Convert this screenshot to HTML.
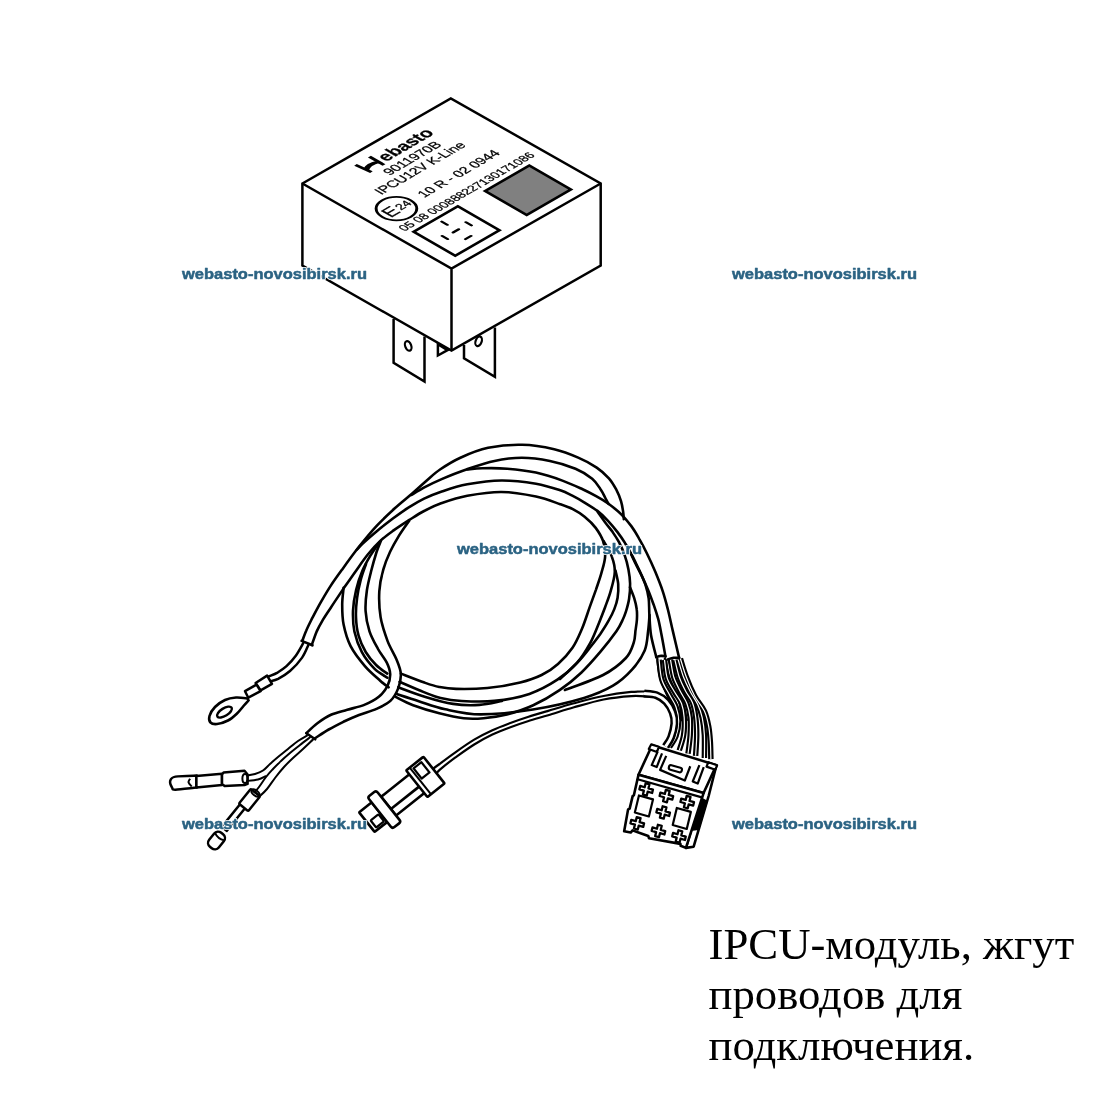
<!DOCTYPE html>
<html><head><meta charset="utf-8">
<style>
html,body{margin:0;padding:0;background:#fff;width:1100px;height:1100px;overflow:hidden}
svg{position:absolute;left:0;top:0}
.cap{position:absolute;left:710px;font-family:"Liberation Serif",serif;font-size:45px;color:#000;white-space:nowrap;line-height:1}
</style></head><body>
<svg width="1100" height="1100" viewBox="0 0 1100 1100" style="will-change:transform">
<g fill="#fff" stroke="#000" stroke-width="2.5" stroke-linejoin="miter">
  <!-- tabs -->
  <path d="M393.6,318.9 V362.9 L424.5,381.5 V336.6"/>
  <path d="M437.9,344.3 V355.5 L447.5,350.2 Z"/>
  <path d="M464,345 V358.3 L494.9,376.8 V327.4"/>
  <!-- box -->
  <path d="M302.4,183.5 L450.8,98.5 L600.7,183.5 V265.5 L451.5,350.6 L302.4,265.5 Z"/>
  <path d="M302.4,183.5 L451.5,268.6 L600.7,183.5 M451.5,268.6 V350.6" fill="none"/>
</g>
<ellipse cx="408.2" cy="345.9" rx="3" ry="5" fill="none" stroke="#000" stroke-width="2.2" transform="rotate(-20 408.2 345.9)"/>
<ellipse cx="478.6" cy="341.3" rx="3" ry="5" fill="none" stroke="#000" stroke-width="2.2" transform="rotate(20 478.6 341.3)"/>
<!--HARNESS_START-->
<g fill="none" stroke="#000" stroke-linecap="round" stroke-linejoin="round">
<path d="M302.3,640.9C303.0,639.2 304.6,634.2 306.3,630.5C307.9,626.7 309.8,623.0 312.2,618.2C314.7,613.5 317.9,607.3 321.0,601.9C324.1,596.5 327.2,591.1 330.8,585.6C334.4,580.1 338.0,575.2 342.6,568.9C347.1,562.6 352.6,554.9 358.2,547.8C363.8,540.8 370.1,532.9 376.2,526.4C382.3,519.8 388.8,513.8 394.8,508.3C400.8,502.8 406.9,498.1 412.2,493.5C417.4,488.9 421.5,485.0 426.2,480.9C430.9,476.9 434.7,473.2 440.4,469.3C446.1,465.4 452.4,461.3 460.4,457.7C468.3,454.1 477.8,450.0 488.1,447.8C498.4,445.7 511.2,444.5 522.2,444.8C533.3,445.0 544.9,447.1 554.2,449.2C563.6,451.4 571.1,454.5 578.2,457.6C585.3,460.6 591.6,464.1 596.7,467.6C601.8,471.0 605.6,474.7 608.9,478.4C612.1,482.0 614.2,485.9 616.3,489.7C618.3,493.5 619.9,497.6 621.0,501.2C622.1,504.8 622.6,508.4 623.1,511.4C623.5,514.4 623.7,517.8 623.8,519.1" stroke-width="2.6"/>
<path d="M411.5,495.0C413.8,493.6 420.3,489.5 425.3,486.9C430.4,484.2 434.9,482.0 441.7,479.1C448.5,476.2 457.6,472.5 466.4,469.5C475.2,466.5 485.3,462.9 494.5,461.0C503.8,459.0 512.6,457.8 521.8,457.8C531.0,457.8 540.9,459.2 549.9,461.1C558.8,462.9 568.4,465.9 575.5,468.8C582.6,471.8 588.0,475.3 592.2,478.7C596.4,482.1 598.4,486.1 600.5,489.3C602.7,492.4 603.8,495.1 605.1,497.5C606.4,499.9 607.9,502.8 608.5,503.8" stroke-width="2.6"/>
<path d="M467.3,469.5C469.8,469.3 475.8,468.4 482.5,468.3C489.2,468.1 498.4,468.0 507.3,468.8C516.2,469.5 526.7,470.6 535.9,472.6C545.1,474.6 554.7,477.8 562.4,480.6C570.2,483.4 577.0,486.7 582.6,489.3C588.2,491.9 591.8,493.8 596.1,496.2C600.5,498.6 604.3,500.8 608.5,503.8C612.6,506.8 617.2,510.3 621.0,514.1C624.8,517.8 628.4,522.3 631.5,526.4C634.5,530.5 636.7,534.3 639.2,538.8C641.8,543.2 644.1,547.5 646.7,553.0C649.4,558.5 652.6,565.4 655.3,571.8C657.9,578.1 660.6,584.8 662.7,591.1C664.8,597.4 666.2,602.9 667.9,609.5C669.6,616.2 670.9,622.8 672.8,630.9C674.7,638.9 678.0,653.3 679.1,657.8" stroke-width="2.6"/>
<path d="M356.9,549.7C357.9,548.7 359.5,546.5 362.7,543.5C366.0,540.4 371.5,535.6 376.5,531.4C381.6,527.2 387.8,522.4 393.2,518.3C398.6,514.3 404.0,510.4 409.2,507.1C414.3,503.9 418.8,501.2 424.1,498.6C429.4,496.1 433.9,494.1 441.1,491.7C448.3,489.3 457.2,486.2 467.3,484.3C477.3,482.5 490.0,480.6 501.4,480.5C512.9,480.4 526.2,482.1 536.0,483.7C545.8,485.4 554.3,488.3 560.3,490.3C566.4,492.3 568.3,493.7 572.3,495.7C576.2,497.7 579.9,499.7 584.1,502.3C588.2,504.8 593.4,507.9 597.4,510.9C601.4,514.0 604.7,517.3 608.0,520.8C611.3,524.3 614.4,528.1 617.3,531.9C620.1,535.6 622.7,539.2 625.1,543.2C627.6,547.1 629.8,551.2 632.2,555.7C634.5,560.3 637.1,565.6 639.3,570.4C641.5,575.2 643.8,580.0 645.4,584.7C646.9,589.4 648.0,593.5 648.7,598.5C649.3,603.6 649.0,608.9 649.4,615.0C649.8,621.1 649.9,628.0 651.0,635.0C652.2,641.9 655.3,653.1 656.2,656.7" stroke-width="2.6"/>
<path d="M630.5,553.0C631.2,554.4 632.6,557.7 634.5,561.5C636.3,565.3 639.3,570.7 641.7,575.6C644.0,580.6 646.4,586.0 648.5,591.0C650.5,596.0 652.3,601.0 654.0,605.6C655.6,610.3 656.9,614.2 658.2,618.9C659.4,623.5 660.1,627.4 661.3,633.7C662.6,640.0 664.8,652.9 665.5,656.7" stroke-width="2.6"/>
<path d="M311.8,645.0C312.6,642.8 314.7,636.2 316.5,631.9C318.4,627.7 320.6,623.7 323.0,619.6C325.5,615.5 327.7,612.3 331.1,607.2C334.4,602.1 339.1,595.2 343.3,588.9C347.6,582.7 352.5,575.6 356.6,569.9C360.7,564.1 364.1,559.1 368.0,554.3C371.8,549.5 375.7,545.1 380.0,541.1C384.3,537.1 388.8,533.9 393.6,530.4C398.4,526.9 403.9,523.4 408.9,520.2C414.0,517.0 418.7,513.8 424.1,511.0C429.4,508.2 433.9,505.9 441.1,503.3C448.3,500.8 457.2,497.7 467.3,495.8C477.3,494.0 490.0,491.9 501.4,492.0C512.9,492.1 526.2,494.5 536.0,496.6C545.8,498.6 554.1,502.1 560.2,504.2C566.4,506.3 568.8,507.1 572.8,509.2C576.9,511.3 580.8,513.7 584.6,516.8C588.4,519.9 592.6,523.8 595.7,527.9C598.7,532.0 601.5,536.4 603.1,541.2C604.7,546.0 605.4,551.5 605.1,556.9C604.8,562.3 602.8,567.9 601.3,573.4C599.8,578.8 597.9,583.9 596.0,589.6C594.0,595.3 591.9,601.0 589.6,607.4C587.3,613.9 585.0,621.5 582.2,628.3C579.3,635.0 576.6,641.8 572.5,647.8C568.5,653.7 563.2,659.4 558.0,663.9C552.9,668.5 547.9,671.9 541.6,675.0C535.3,678.1 529.3,680.2 520.2,682.4C511.2,684.6 498.0,686.9 487.3,688.0C476.6,689.0 464.1,689.1 456.1,688.9C448.0,688.7 444.5,688.0 439.2,687.0C433.9,685.9 430.8,684.8 424.4,682.6C418.0,680.3 404.8,675.1 400.9,673.6" stroke-width="2.6"/>
<path d="M343.6,587.7C343.4,590.5 342.2,598.3 342.2,604.5C342.2,610.6 342.2,617.6 343.6,624.6C345.0,631.5 347.1,639.2 350.6,646.2C354.2,653.1 359.9,660.3 364.9,666.1C369.8,671.8 376.3,677.2 380.2,680.7C384.2,684.3 387.2,686.2 388.6,687.3" stroke-width="2.6"/>
<path d="M603.5,540.9C604.9,543.5 610.0,551.4 611.8,556.6C613.7,561.7 615.0,566.1 614.8,571.8C614.7,577.4 612.5,584.7 610.8,590.6C609.2,596.6 606.9,602.2 605.0,607.5C603.0,612.8 601.6,616.5 599.2,622.4C596.7,628.3 594.0,636.0 590.3,642.8C586.6,649.5 582.4,656.8 576.9,662.9C571.4,669.1 565.3,674.5 557.4,679.7C549.5,684.9 540.0,690.3 529.4,693.9C518.9,697.4 505.6,699.8 494.3,700.9C483.0,702.1 470.5,701.5 461.6,701.0C452.6,700.5 446.9,699.5 440.6,698.0C434.3,696.5 430.6,694.8 423.8,692.1C416.9,689.4 403.5,683.5 399.5,681.8" stroke-width="2.6"/>
<path d="M615.5,570.5C615.9,572.8 617.8,579.5 618.2,584.0C618.5,588.5 618.3,593.5 617.6,597.7C617.0,601.8 615.8,605.2 614.3,609.1C612.8,612.9 611.0,616.6 608.6,620.7C606.3,624.9 603.3,629.5 600.3,634.0C597.2,638.4 594.0,642.5 590.2,647.3C586.4,652.1 582.5,657.3 577.4,662.6C572.4,667.9 562.9,676.3 560.0,679.0" stroke-width="2.6"/>
<path d="M597.6,511.8C599.0,513.7 603.3,519.9 605.8,523.2C608.2,526.5 610.1,528.4 612.3,531.6C614.5,534.8 616.9,538.2 619.0,542.2C621.1,546.2 623.2,550.9 624.7,555.4C626.3,559.9 627.5,564.5 628.4,569.2C629.3,573.9 630.0,578.6 630.1,583.6C630.2,588.5 629.8,594.0 629.1,598.7C628.4,603.3 627.0,608.1 625.9,611.7C624.8,615.2 624.2,616.8 622.6,620.0C621.1,623.3 620.0,626.0 616.4,631.2C612.7,636.4 606.5,644.5 600.7,651.4C594.8,658.4 588.0,666.2 581.2,672.7C574.3,679.2 567.6,684.8 559.6,690.2C551.6,695.7 542.0,701.3 533.2,705.3C524.5,709.4 515.2,712.3 506.9,714.5C498.6,716.6 490.7,717.6 483.5,718.2C476.3,718.9 471.1,719.1 463.7,718.3C456.3,717.5 447.7,715.5 439.3,713.3C430.8,711.1 420.4,707.9 413.1,705.2C405.8,702.4 398.4,698.2 395.5,696.8" stroke-width="2.6"/>
<path d="M630.0,587.3C630.7,589.1 633.1,594.6 634.2,598.2C635.3,601.8 636.3,605.6 636.7,609.2C637.2,612.7 637.1,616.2 636.9,619.7C636.7,623.2 636.1,626.5 635.5,630.4C635.0,634.2 635.3,638.1 633.7,642.7C632.1,647.4 631.0,652.6 625.9,658.0C620.8,663.4 613.3,669.7 603.1,675.0C592.9,680.3 571.3,687.5 564.9,690.0" stroke-width="2.6"/>
<path d="M649.5,615.0C649.3,617.7 648.9,625.2 648.1,631.2C647.3,637.1 647.3,644.1 644.7,650.5C642.0,656.9 637.3,663.9 632.0,669.7C626.7,675.6 621.0,681.0 613.0,685.7C605.0,690.4 597.4,694.0 584.0,697.9C570.7,701.9 550.1,706.7 532.9,709.5C515.7,712.2 495.4,714.4 480.8,714.4C466.2,714.3 455.6,711.5 445.3,709.3C435.0,707.1 426.9,703.8 418.8,701.2C410.7,698.7 400.5,695.3 396.8,694.1" stroke-width="2.6"/>
<path d="M398.2,687.3C402.7,688.9 416.3,694.2 425.5,697.0C434.6,699.8 444.1,702.6 453.1,703.9C462.1,705.3 471.2,705.4 479.4,704.9C487.5,704.4 498.2,701.6 502.0,701.0" stroke-width="2.6"/>
<path d="M409.1,520.9C407.4,523.3 402.2,530.4 399.0,535.6C395.9,540.7 392.8,546.1 390.1,551.8C387.5,557.4 385.1,563.1 383.3,569.7C381.4,576.3 379.8,583.5 379.3,591.4C378.9,599.3 379.2,608.8 380.6,617.1C381.9,625.3 385.0,634.1 387.6,641.1C390.3,648.2 394.2,653.8 396.4,659.2C398.6,664.6 400.5,668.7 400.8,673.5C401.1,678.3 400.0,683.6 398.3,688.1C396.5,692.7 394.0,697.4 390.4,700.9C386.8,704.3 381.8,706.5 376.5,708.9C371.3,711.2 364.5,712.9 359.0,715.0C353.4,717.2 348.5,719.4 343.4,721.8C338.4,724.3 333.6,726.7 328.7,729.5C323.9,732.3 316.9,737.1 314.5,738.6" stroke-width="2.6"/>
<path d="M380.9,540.9C380.2,542.8 378.0,547.7 376.4,552.5C374.9,557.3 373.1,563.5 371.5,569.8C369.9,576.1 367.9,583.4 366.9,590.3C365.9,597.2 365.2,604.3 365.6,611.1C366.0,617.9 367.5,625.0 369.5,631.3C371.6,637.6 375.2,643.8 378.0,649.0C380.9,654.2 384.7,658.4 386.8,662.6C388.8,666.7 390.1,670.2 390.2,674.0C390.3,677.9 389.4,682.0 387.5,685.8C385.6,689.6 382.6,693.6 378.8,696.8C374.9,700.0 369.6,702.7 364.3,704.9C359.1,707.0 352.8,708.1 347.3,709.7C341.7,711.4 336.0,712.5 331.0,714.8C326.0,717.0 321.5,720.2 317.4,723.3C313.3,726.3 308.2,731.5 306.4,733.2" stroke-width="2.6"/>
<path d="M379.1,542.7C377.6,544.9 373.0,551.2 370.2,555.9C367.4,560.6 364.7,565.1 362.4,570.8C360.0,576.5 357.6,583.3 356.1,590.0C354.5,596.7 353.3,604.0 353.0,610.9C352.8,617.8 353.0,624.7 354.4,631.6C355.9,638.4 358.6,646.0 361.9,652.1C365.2,658.3 370.2,664.3 374.4,668.6C378.6,672.8 385.2,676.2 387.3,677.7" stroke-width="2.6"/>
<path d="M366.0,564.0C365.1,566.7 362.1,574.3 360.7,579.9C359.2,585.6 357.9,591.5 357.1,597.8C356.3,604.0 355.7,611.0 356.0,617.3C356.2,623.6 356.9,629.9 358.6,635.7C360.2,641.4 362.8,647.1 365.7,652.0C368.6,656.9 372.5,661.4 376.1,665.0C379.7,668.6 385.4,672.2 387.3,673.6" stroke-width="2.6"/>
<path d="M301.6,640.9L312.5,645.3" stroke-width="2.6"/>
<path d="M303.2,643.2C302.0,645.3 298.6,651.9 295.8,655.7C293.0,659.5 289.5,663.4 286.5,666.2C283.4,669.0 280.4,670.8 277.5,672.6C274.5,674.3 270.2,675.8 268.7,676.5" stroke-width="2.5"/>
<path d="M308.6,644.5C307.5,646.7 305.2,653.2 302.1,657.6C299.0,662.1 294.0,667.5 290.0,671.0C286.0,674.5 281.4,677.1 278.1,678.9C274.8,680.6 271.7,681.0 270.4,681.4" stroke-width="2.5"/>
<path d="M306.4,733.2L315.2,739.3" stroke-width="2.6"/>
<path d="M432.3,769.3C433.5,768.4 435.7,766.8 439.6,764.0C443.4,761.1 449.6,756.3 455.4,752.3C461.1,748.2 468.1,743.3 474.2,739.6C480.4,735.9 486.3,733.0 492.4,730.2C498.4,727.4 504.5,725.2 510.4,723.0C516.4,720.8 521.5,719.0 527.8,717.0C534.1,714.9 540.5,713.1 548.2,710.9C555.9,708.6 564.8,705.8 574.0,703.3C583.2,700.8 594.1,697.8 603.6,696.0C613.1,694.1 623.8,692.7 631.2,691.9C638.6,691.2 645.2,691.6 648.0,691.5" stroke-width="2.2"/>
<path d="M435.5,775.0C436.2,774.1 436.7,772.5 439.9,769.7C443.2,766.8 449.4,761.8 455.1,757.6C460.9,753.5 468.0,748.4 474.2,744.5C480.4,740.7 486.3,737.5 492.4,734.6C498.4,731.7 504.5,729.4 510.4,727.2C516.4,724.9 521.5,723.2 527.8,721.2C534.1,719.2 540.5,717.5 548.2,715.2C555.9,712.9 564.8,709.9 574.0,707.3C583.2,704.7 594.1,701.4 603.6,699.5C613.1,697.6 623.8,696.6 631.2,696.1C638.6,695.6 645.2,696.4 648.0,696.5" stroke-width="2.2"/>
<path d="M656.2,657.3C656.9,657.0 659.0,656.0 660.5,655.9C662.1,655.7 664.6,656.1 665.5,656.2" stroke-width="2.6"/>
<path d="M667.6,659.5C668.6,659.2 671.7,658.1 673.6,657.8C675.5,657.5 678.2,657.8 679.1,657.8" stroke-width="2.6"/>
<path d="M657.3,658.9C657.7,661.9 658.6,671.1 660.0,676.6C661.5,682.1 663.9,687.1 665.8,691.8C667.7,696.5 669.8,699.9 671.1,704.6C672.4,709.3 673.2,717.4 673.6,720.0" stroke-width="2.5"/>
<path d="M664.9,658.9C665.6,661.9 667.2,671.1 668.9,676.6C670.7,682.1 673.5,687.1 675.4,691.8C677.2,696.5 679.0,699.9 680.0,704.6C681.0,709.3 681.1,717.4 681.3,720.0" stroke-width="2.5"/>
<path d="M669.3,661.1C670.0,663.7 672.1,671.2 673.8,676.5C675.4,681.8 677.5,687.7 679.2,693.0C681.0,698.3 682.9,704.0 684.2,708.5C685.4,712.9 686.3,718.1 686.7,720.0" stroke-width="2.5"/>
<path d="M678.0,661.1C678.9,663.7 681.4,671.8 683.6,676.9C685.9,681.9 688.7,687.0 691.3,691.7C693.9,696.3 697.0,699.9 699.4,704.6C701.7,709.4 704.3,717.4 705.3,720.0" stroke-width="2.5"/>
</g>
<!--HARNESS_END-->
<!--PARTS_START-->
<path d="M247.7,698.5C245.8,698.3 239.8,697.2 236.0,697.5C232.2,697.8 228.5,698.4 225.0,700.0C221.5,701.6 217.6,704.3 215.0,707.0C212.4,709.7 210.2,713.4 209.5,716.0C208.8,718.6 209.2,721.2 210.5,722.5C211.8,723.8 214.1,724.3 217.0,724.0C219.9,723.7 224.7,722.2 228.0,720.5C231.3,718.8 234.4,715.9 237.0,713.5C239.6,711.1 241.6,708.2 243.5,706.0C245.4,703.8 247.7,701.4 248.5,700.5Z" fill="#fff" stroke="#000" stroke-width="2.6"/>
<ellipse cx="224.5" cy="712.1" rx="8.4" ry="3.8" transform="rotate(-32 224.5 712.1)" fill="#fff" stroke="#000" stroke-width="2.4"/>
<path d="M255.6,683.0 L267.1,675.6 L272.0,683.8 L260.6,690.4Z" fill="#fff" stroke="#000" stroke-width="2.5" stroke-linejoin="round"/>
<path d="M245.0,691.2 L256.5,684.6 L260.6,691.2 L248.3,697.7Z" fill="#fff" stroke="#000" stroke-width="2.5" stroke-linejoin="round"/>
<path d="M196.4,775.6C192.9,775.7 179.8,775.7 175.5,776.6C171.1,777.5 170.8,778.9 170.2,780.8C169.7,782.7 171.4,786.6 172.3,788.1C173.2,789.6 171.4,789.8 175.5,789.7C179.5,789.6 192.9,787.9 196.4,787.6Z" fill="#fff" stroke="#000" stroke-width="2.5"/>
<path d="M196.4,776.1 L222.0,773.7 L222.0,785.0 L196.4,787.6Z" fill="#fff" stroke="#000" stroke-width="2.5" stroke-linejoin="round"/>
<path d="M190.1,778.7C189.8,779.3 188.3,781.0 188.5,782.3C188.8,783.7 191.1,785.8 191.7,786.5" fill="none" stroke="#000" stroke-width="2"/>
<path d="M223.6,772.4 L244.5,770.8 L247.6,774.5 L247.6,783.9 L244.5,785.0 L224.6,786.0 L222.0,783.9 L222.0,774.5Z" fill="#fff" stroke="#000" stroke-width="2.5" stroke-linejoin="round"/>
<ellipse cx="245" cy="778.5" rx="2.6" ry="4.6" fill="none" stroke="#000" stroke-width="2"/>
<g transform="translate(0,0)" fill="#fff" stroke="#000" stroke-width="2.5" stroke-linejoin="round"><rect x="-14" y="-3.2" width="32" height="6.4" transform="translate(233,818) rotate(-51)"/><rect x="-9.5" y="-6" width="19" height="12" rx="1.5" transform="translate(249.5,800) rotate(-51)"/><ellipse cx="0" cy="0" rx="2.6" ry="4.6" transform="translate(255.5,793) rotate(-51)" fill="none" stroke-width="2"/><rect x="-9" y="-6.2" width="18" height="12.4" rx="5" transform="translate(216.5,840.5) rotate(-51)"/><path d="M5,-6 Q2,0 5,6" transform="translate(216.5,840.5) rotate(-51)" fill="none" stroke-width="2"/></g>
<path d="M307.7,735.2C306.1,736.2 301.3,738.7 298.0,741.0C294.7,743.3 291.3,746.3 288.0,749.0C284.7,751.7 281.0,754.5 278.0,757.0C275.0,759.5 272.5,761.8 270.0,764.0C267.5,766.2 265.5,768.8 263.0,770.5C260.5,772.2 257.8,773.2 255.0,774.0C252.2,774.8 247.9,775.2 246.5,775.5" fill="none" stroke="#000" stroke-width="2"/>
<path d="M310.5,737.0C308.8,738.3 303.4,742.3 300.0,745.0C296.6,747.7 293.2,750.3 290.0,753.0C286.8,755.7 283.8,758.3 281.0,761.0C278.2,763.7 275.5,766.3 273.0,769.0C270.5,771.7 268.3,774.0 266.0,777.0C263.7,780.0 261.0,784.3 259.0,787.0C257.0,789.7 254.8,792.0 254.0,793.0" fill="none" stroke="#000" stroke-width="2"/>
<path d="M313.5,739.0C311.8,740.7 306.4,745.8 303.0,749.0C299.6,752.2 296.2,755.0 293.0,758.0C289.8,761.0 287.0,763.7 284.0,767.0C281.0,770.3 277.8,774.3 275.0,778.0C272.2,781.7 269.7,785.8 267.0,789.0C264.3,792.2 260.3,795.7 259.0,797.0" fill="none" stroke="#000" stroke-width="2"/>
<path d="M246.5,781.0C248.4,780.8 254.8,780.3 258.0,779.5C261.2,778.7 264.7,776.6 266.0,776.0" fill="none" stroke="#000" stroke-width="2"/>
<g transform="translate(383.6,812.7) rotate(-38.5)" fill="#fff" stroke="#000" stroke-width="2.6" stroke-linejoin="round"><rect x="-19" y="-15.5" width="16" height="25" rx="1"/><rect x="-15" y="-2" width="10" height="9" rx="1" stroke-width="2.2"/><rect x="8" y="-14" width="37" height="24"/><path d="M8,1.7 H44" fill="none"/><rect x="44" y="-19" width="22" height="34" rx="1"/><path d="M48.5,-19 V15" fill="none" stroke-width="2"/><rect x="51" y="-16" width="10" height="13" stroke-width="2.2"/><rect x="-3" y="-22" width="11" height="40" rx="2.5"/></g>
<path d="M659.1,659.8C659.5,663.1 660.1,673.6 661.8,679.5C663.5,685.3 667.1,690.2 669.5,694.7C671.8,699.3 674.5,702.4 676.0,706.7C677.5,711.1 678.7,716.0 678.7,720.9C678.7,725.8 677.5,731.8 676.0,736.2C674.5,740.5 670.5,745.3 669.5,747.1" fill="none" stroke="#000" stroke-width="5.5"/>
<path d="M664.5,659.8C665.0,662.9 665.5,672.9 667.3,678.4C669.0,683.8 672.5,688.4 674.9,692.5C677.3,696.7 679.9,699.3 681.5,703.5C683.0,707.6 683.8,712.4 684.2,717.6C684.5,722.9 684.5,729.6 683.6,735.1C682.8,740.5 680.0,747.8 679.3,750.4" fill="none" stroke="#000" stroke-width="5.5"/>
<path d="M670.5,659.8C671.1,662.7 672.2,672.0 673.8,677.3C675.5,682.5 678.2,687.1 680.4,691.5C682.5,695.8 685.3,699.1 686.9,703.5C688.5,707.8 689.6,712.4 690.2,717.6C690.7,722.9 690.5,729.1 690.2,735.1C689.8,741.1 688.4,750.5 688.0,753.6" fill="none" stroke="#000" stroke-width="5.5"/>
<path d="M674.9,659.8C675.6,662.7 677.5,672.0 679.3,677.3C681.1,682.5 683.6,687.3 685.8,691.5C688.0,695.6 690.7,698.2 692.4,702.4C694.0,706.5 694.9,711.1 695.6,716.5C696.4,722.0 696.7,728.5 696.7,735.1C696.7,741.6 695.8,752.4 695.6,755.8" fill="none" stroke="#000" stroke-width="5.5"/>
<path d="M678.2,659.8C679.1,662.7 681.6,672.0 683.6,677.3C685.6,682.5 687.8,686.9 690.2,691.5C692.5,696.0 695.8,700.2 697.8,704.5C699.8,708.9 701.1,712.5 702.2,717.6C703.3,722.7 704.0,728.4 704.4,735.1C704.7,741.8 704.4,754.2 704.4,758.0" fill="none" stroke="#000" stroke-width="5.5"/>
<path d="M680.4,658.7C681.4,661.8 684.0,671.1 686.4,677.3C688.7,683.5 691.5,690.2 694.5,695.8C697.5,701.5 702.0,706.0 704.4,711.1C706.7,716.2 707.7,721.1 708.7,726.4C709.7,731.6 710.0,737.3 710.4,742.7C710.7,748.2 710.8,756.4 710.9,759.1" fill="none" stroke="#000" stroke-width="5.5"/>
<path d="M659.1,659.8C659.5,663.1 660.1,673.6 661.8,679.5C663.5,685.3 667.1,690.2 669.5,694.7C671.8,699.3 674.5,702.4 676.0,706.7C677.5,711.1 678.7,716.0 678.7,720.9C678.7,725.8 677.5,731.8 676.0,736.2C674.5,740.5 670.5,745.3 669.5,747.1" fill="none" stroke="#fff" stroke-width="1.2"/>
<path d="M664.5,659.8C665.0,662.9 665.5,672.9 667.3,678.4C669.0,683.8 672.5,688.4 674.9,692.5C677.3,696.7 679.9,699.3 681.5,703.5C683.0,707.6 683.8,712.4 684.2,717.6C684.5,722.9 684.5,729.6 683.6,735.1C682.8,740.5 680.0,747.8 679.3,750.4" fill="none" stroke="#fff" stroke-width="1.2"/>
<path d="M670.5,659.8C671.1,662.7 672.2,672.0 673.8,677.3C675.5,682.5 678.2,687.1 680.4,691.5C682.5,695.8 685.3,699.1 686.9,703.5C688.5,707.8 689.6,712.4 690.2,717.6C690.7,722.9 690.5,729.1 690.2,735.1C689.8,741.1 688.4,750.5 688.0,753.6" fill="none" stroke="#fff" stroke-width="1.2"/>
<path d="M674.9,659.8C675.6,662.7 677.5,672.0 679.3,677.3C681.1,682.5 683.6,687.3 685.8,691.5C688.0,695.6 690.7,698.2 692.4,702.4C694.0,706.5 694.9,711.1 695.6,716.5C696.4,722.0 696.7,728.5 696.7,735.1C696.7,741.6 695.8,752.4 695.6,755.8" fill="none" stroke="#fff" stroke-width="1.2"/>
<path d="M678.2,659.8C679.1,662.7 681.6,672.0 683.6,677.3C685.6,682.5 687.8,686.9 690.2,691.5C692.5,696.0 695.8,700.2 697.8,704.5C699.8,708.9 701.1,712.5 702.2,717.6C703.3,722.7 704.0,728.4 704.4,735.1C704.7,741.8 704.4,754.2 704.4,758.0" fill="none" stroke="#fff" stroke-width="1.2"/>
<path d="M680.4,658.7C681.4,661.8 684.0,671.1 686.4,677.3C688.7,683.5 691.5,690.2 694.5,695.8C697.5,701.5 702.0,706.0 704.4,711.1C706.7,716.2 707.7,721.1 708.7,726.4C709.7,731.6 710.0,737.3 710.4,742.7C710.7,748.2 710.8,756.4 710.9,759.1" fill="none" stroke="#fff" stroke-width="1.2"/>
<path d="M644.0,693.5C646.1,693.8 652.7,693.8 656.4,695.2C660.1,696.6 663.5,698.9 666.2,701.8C668.9,704.7 671.4,709.1 672.7,712.7C674.1,716.3 674.6,719.5 674.3,723.6C674.0,727.7 672.5,733.5 671.1,737.3C669.7,741.1 666.5,745.0 665.6,746.5" fill="none" stroke="#000" stroke-width="7.9"/>
<path d="M644.0,693.5C646.1,693.8 652.7,693.8 656.4,695.2C660.1,696.6 663.5,698.9 666.2,701.8C668.9,704.7 671.4,709.1 672.7,712.7C674.1,716.3 674.6,719.5 674.3,723.6C674.0,727.7 672.5,733.5 671.1,737.3C669.7,741.1 666.5,745.0 665.6,746.5" fill="none" stroke="#fff" stroke-width="2.9"/>
<g transform="matrix(0.6380,0.1800,-0.1370,0.5680,638.5,774.7)" fill="#fff" stroke="#000" stroke-width="2.6" stroke-linejoin="round"><path d="M100,-52 L111,-50 L110.5,1.6 L106.4,93 L95.5,98.6 L100,0Z" vector-effect="non-scaling-stroke"/><path d="M102,10 L110,12 L107.5,62 L99.5,66Z" fill="#000" vector-effect="non-scaling-stroke" stroke-width="1.5"/><path d="M9.5,-55 L111,-52 L102,0 L0,0Z" vector-effect="non-scaling-stroke"/><path d="M8,-56 L20,-55.5 L19,-46 L6,-47Z" vector-effect="non-scaling-stroke" stroke-width="2.2"/><path d="M98,-53 L112,-52 L111,-44 L97,-45Z" vector-effect="non-scaling-stroke" stroke-width="2.2"/><path d="M20,-47 L16,-22 L24,-21 L27,-46" fill="none" vector-effect="non-scaling-stroke" stroke-width="2.2"/><path d="M86,-44 L82,-14 L90,-13 L93,-43" fill="none" vector-effect="non-scaling-stroke" stroke-width="2.2"/><path d="M34,-44 L30,-18 L70,-12 L73,-38" fill="none" vector-effect="non-scaling-stroke" stroke-width="2.2"/><rect x="42" y="-31" width="20" height="8" rx="3" vector-effect="non-scaling-stroke" stroke-width="2.2"/><path d="M0,0 L102,0 L95.5,98.6 L87,97.5 L86,94.5 L38,100 L36,96.5 L11,94.5 L9,99 L-1,100 L-3,62 L-1,60 L-1,38 L0.5,36Z" vector-effect="non-scaling-stroke"/><path d="M-1,8 L101,8" fill="none" vector-effect="non-scaling-stroke" stroke-width="2.2"/><path d="M13.5,10.8 h6 v7 h7 v6 h-7 v7 h-6 v-7 h-7 v-6 h7Z" vector-effect="non-scaling-stroke" stroke-width="2.3"/><path d="M45.5,12.3 h6 v7 h7 v6 h-7 v7 h-6 v-7 h-7 v-6 h7Z" vector-effect="non-scaling-stroke" stroke-width="2.3"/><path d="M78.2,12.5 h6 v7 h7 v6 h-7 v7 h-6 v-7 h-7 v-6 h7Z" vector-effect="non-scaling-stroke" stroke-width="2.3"/><path d="M46.6,40.8 h6 v7 h7 v6 h-7 v7 h-6 v-7 h-7 v-6 h7Z" vector-effect="non-scaling-stroke" stroke-width="2.3"/><path d="M12.4,70.8 h6 v7 h7 v6 h-7 v7 h-6 v-7 h-7 v-6 h7Z" vector-effect="non-scaling-stroke" stroke-width="2.3"/><path d="M46.2,73.5 h6 v7 h7 v6 h-7 v7 h-6 v-7 h-7 v-6 h7Z" vector-effect="non-scaling-stroke" stroke-width="2.3"/><path d="M78.3,73 h6 v7 h7 v6 h-7 v7 h-6 v-7 h-7 v-6 h7Z" vector-effect="non-scaling-stroke" stroke-width="2.3"/><rect x="8" y="34" width="22" height="30" vector-effect="non-scaling-stroke" stroke-width="2.2"/><rect x="68" y="37" width="22" height="30" vector-effect="non-scaling-stroke" stroke-width="2.2"/></g>
<!--PARTS_END-->
<!-- top face label in isometric coords -->
<g transform="matrix(0.866,-0.5,0.866,0.5,302.4,183.5)" opacity="0.999">
  <rect x="98" y="113" width="51" height="48" fill="#808080" stroke="#000" stroke-width="3"/>
  <rect x="16" y="112.5" width="51" height="48" fill="none" stroke="#000" stroke-width="3"/>
  <g stroke="#000" stroke-width="2.6" stroke-linecap="round">
    <path d="M42.4,118.5 v6.5 M55.7,133 v6.5 M28.3,133 v6.5 M38,136 h6.5 M38.5,149.8 h6.5"/>
  </g>
  <circle cx="29.2" cy="79.4" r="16.6" fill="none" stroke="#000" stroke-width="2.4"/>
  <g fill="none" stroke="#000" stroke-linecap="butt">
    <path d="M49.3,12 L51.2,28.5" stroke-width="3.4"/>
    <path d="M65.6,11.8 V28.6" stroke-width="3.4"/>
    <path d="M50.5,20.5 C54,18 60,17.3 65.6,20.5 L65.6,24.5 C60,21.5 55,22.5 50.8,26 Z" fill="#000" stroke="none"/>
  </g>
  <g font-family="Liberation Sans, sans-serif" fill="#000" stroke="#000" stroke-width="0.3">
    <text x="70" y="26.8" font-size="18" font-weight="bold" textLength="56.5" lengthAdjust="spacingAndGlyphs">ebasto</text>
    <text x="58.2" y="42.6" font-size="13.4" textLength="61" lengthAdjust="spacingAndGlyphs">9011970B</text>
    <text x="34" y="57.2" font-size="13.4" textLength="98.5" lengthAdjust="spacingAndGlyphs">IPCU12V K-Line</text>
    <text x="16.5" y="85.5" font-size="18.5">E</text>
    <text x="30" y="84" font-size="12">24</text>
    <text x="55.8" y="85" font-size="13.4">10 R - 02 0944</text>
    <text x="11" y="107" font-size="12" textLength="151.5" lengthAdjust="spacingAndGlyphs">05 08 000888227130171086</text>
  </g>
</g>
<g font-family="Liberation Serif, serif" font-size="44.75" fill="#000">
  <text x="708.5" y="958.6">IPCU-модуль, жгут</text>
  <text x="708.5" y="1009.4">проводов для</text>
  <text x="708.5" y="1059.5">подключения.</text>
</g>
<!-- watermarks -->
<g font-family="Liberation Sans, sans-serif" font-weight="bold" font-size="15.5" fill="#2b6383" stroke-linejoin="round">
  <text x="182" y="279" textLength="185" lengthAdjust="spacingAndGlyphs" stroke="#fff" stroke-width="2.2">webasto-novosibirsk.ru</text>
  <text x="732" y="279" textLength="185" lengthAdjust="spacingAndGlyphs" stroke="#fff" stroke-width="2.2">webasto-novosibirsk.ru</text>
  <text x="457" y="554" textLength="185" lengthAdjust="spacingAndGlyphs" stroke="#fff" stroke-width="2.2">webasto-novosibirsk.ru</text>
  <text x="182" y="829" textLength="185" lengthAdjust="spacingAndGlyphs" stroke="#fff" stroke-width="2.2">webasto-novosibirsk.ru</text>
  <text x="732" y="829" textLength="185" lengthAdjust="spacingAndGlyphs" stroke="#fff" stroke-width="2.2">webasto-novosibirsk.ru</text>
  <text x="182" y="279" textLength="185" lengthAdjust="spacingAndGlyphs" stroke="#2b6383" stroke-width="0.5">webasto-novosibirsk.ru</text>
  <text x="732" y="279" textLength="185" lengthAdjust="spacingAndGlyphs" stroke="#2b6383" stroke-width="0.5">webasto-novosibirsk.ru</text>
  <text x="457" y="554" textLength="185" lengthAdjust="spacingAndGlyphs" stroke="#2b6383" stroke-width="0.5">webasto-novosibirsk.ru</text>
  <text x="182" y="829" textLength="185" lengthAdjust="spacingAndGlyphs" stroke="#2b6383" stroke-width="0.5">webasto-novosibirsk.ru</text>
  <text x="732" y="829" textLength="185" lengthAdjust="spacingAndGlyphs" stroke="#2b6383" stroke-width="0.5">webasto-novosibirsk.ru</text>
</g>
</svg>
</body></html>
